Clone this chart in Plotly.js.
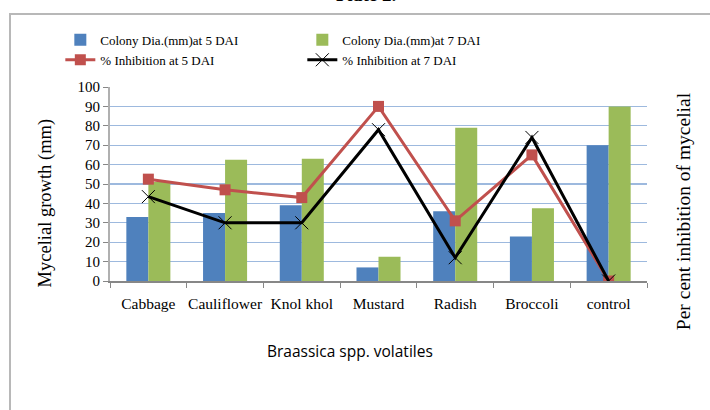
<!DOCTYPE html>
<html>
<head>
<meta charset="utf-8">
<script src="https://cdn.plot.ly/plotly-3.0.1.min.js"></script>
<style>
html,body{margin:0;padding:0;background:#fff;}
#wrap{position:relative;width:710px;height:410px;overflow:hidden;}
#chart{position:absolute;left:0;top:0;width:710px;height:410px;}
#frame{position:absolute;left:9px;top:13px;width:720px;height:420px;border-left:2px solid #b8b8b8;border-top:2px solid #b8b8b8;pointer-events:none;}
</style>
</head>
<body>
<div id="wrap"><div id="chart"></div><div id="frame"></div></div>
<script>
const categories = ["Cabbage","Cauliflower","Knolkhol","Mustard","Radish","Broccoli","control"];
const tickLabels = ["Cabbage","Cauliflower","Knol khol","Mustard","Radish","Broccoli","control"];
const colony5 = [33, 35, 39, 7, 36, 23, 70];
const colony7 = [51, 62.5, 63, 12.5, 79, 37.5, 90];
const inhib5 = [52.5, 47, 43, 90, 31, 65, 0];
const inhib7 = [43.5, 30, 30, 78, 12, 74, 0];
const seriesNames = ["Colony Dia.(mm)at 5 DAI","Colony Dia.(mm)at 7 DAI","% Inhibition at 5 DAI","% Inhibition at 7 DAI"];

const serif = "Liberation Serif, Times New Roman, serif";

const traces = [
  {type:"bar", x:categories, y:colony5, name:seriesNames[0], marker:{color:"#4F81BD"}},
  {type:"bar", x:categories, y:colony7, name:seriesNames[1], marker:{color:"#9BBB59"}},
  {type:"scatter", mode:"lines+markers", x:categories, y:inhib5, name:seriesNames[2], yaxis:"y2",
   line:{color:"#C0504D", width:3}, marker:{symbol:"square", size:11, color:"#C0504D"}},
  {type:"scatter", mode:"lines+markers", x:categories, y:inhib7, name:seriesNames[3], yaxis:"y2",
   line:{color:"#000000", width:3}, marker:{symbol:"x-thin", size:13, color:"#000000", line:{width:1, color:"#000000"}}}
];

const layout = {
  width:710, height:410,
  margin:{l:110, r:63, t:87, b:129},
  paper_bgcolor:"#ffffff", plot_bgcolor:"#ffffff",
  barmode:"group", bargap:0.426, bargroupgap:0,
  font:{family:serif, size:14, color:"#000"},
  showlegend:true,
  legend:{orientation:"h", x:-0.0925, xanchor:"left", y:1.32, yanchor:"top",
          entrywidth:197, entrywidthmode:"pixels", itemwidth:30,
          font:{family:serif, size:13, color:"#000"}, traceorder:"normal", bgcolor:"rgba(0,0,0,0)"},
  xaxis:{type:"category", tickmode:"array", tickvals:categories, ticktext:tickLabels,
         tickson:"boundaries", ticks:"outside", ticklen:5, tickcolor:"#878787", tickangle:0,
         showline:true, linecolor:"#878787", linewidth:1.5, showgrid:false,
         tickfont:{family:serif, size:15.5}, ticklabelstandoff:8, automargin:false},
  yaxis:{range:[0,100], dtick:10, ticks:"outside", ticklen:5, tickcolor:"#878787",
         showline:true, linecolor:"#b0b0b0", linewidth:2, showgrid:true, gridcolor:"#9DB9DE", gridwidth:1.3,
         zeroline:false, tickfont:{family:serif, size:15}, automargin:false},
  yaxis2:{range:[0,100], overlaying:"y", side:"right", showticklabels:false, showgrid:false,
          zeroline:false, showline:false, ticks:""},
  annotations:[
    {text:"Mycelial growth (mm)", xref:"paper", yref:"paper", x:-0.121, y:0.40, textangle:-90,
     xanchor:"center", yanchor:"middle", showarrow:false, font:{family:serif, size:18.5}},
    {text:"Per cent inhibition of mycelial", xref:"paper", yref:"paper", x:1.067, y:0.36, textangle:-90,
     xanchor:"center", yanchor:"middle", showarrow:false, font:{family:serif, size:19.5}},
    {text:"Braassica spp. volatiles", xref:"paper", yref:"paper", x:0.447, y:-0.361,
     xanchor:"center", yanchor:"middle", showarrow:false,
     font:{family:"Open Sans, Liberation Sans, sans-serif", size:15.5}},
    {text:"<b>Plate 2.</b>", xref:"paper", yref:"paper", x:0.477, y:1.475, xanchor:"center", yanchor:"middle",
     showarrow:false, font:{family:serif, size:19}}
  ]
};

Plotly.newPlot("chart", traces, layout, {displayModeBar:false, staticPlot:true});
</script>
</body>
</html>
